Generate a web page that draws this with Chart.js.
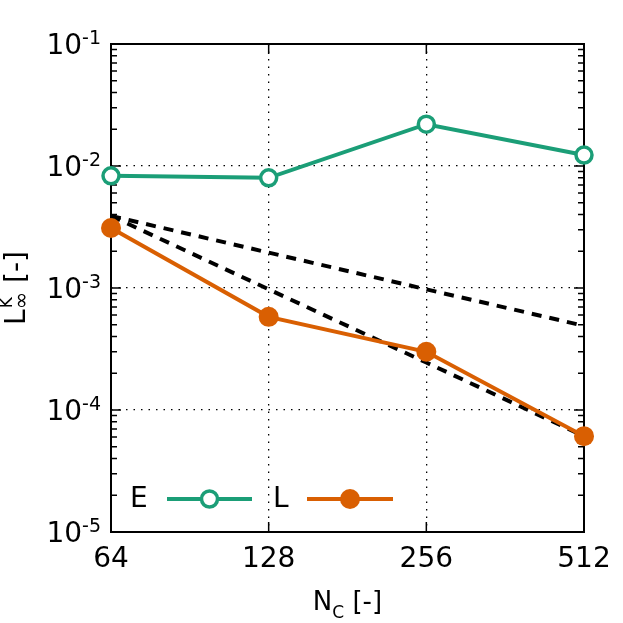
<!DOCTYPE html>
<html>
<head>
<meta charset="utf-8">
<script src="https://cdn.jsdelivr.net/npm/chart.js@4"></script>
<style>
  html, body { margin: 0; padding: 0; background: #fff; }
  #wrap { width: 623px; height: 623px; }
</style>
</head>
<body>
<div id="wrap"><canvas id="errChart" width="623" height="623"></canvas></div>
<script>
// data
const nc = [64, 128, 256, 512];
const errE = [8.3e-3, 8.0e-3, 2.2e-2, 1.23e-2];
const errL = [3.1e-3, 5.8e-4, 3.0e-4, 6.1e-5];
const refOrder1 = [3.9e-3, 1.95e-3, 9.75e-4, 4.9e-4];
const refOrder2 = [3.9e-3, 9.75e-4, 2.45e-4, 6.1e-5];
const yTicks = [1e-5, 1e-4, 1e-3, 1e-2, 1e-1];
const yExp = ['-5', '-4', '-3', '-2', '-1'];
const xTickLabels = ['64', '128', '256', '512'];

const GREEN = '#1b9e77';
const ORANGE = '#d95f02';
const FONT = '"DejaVu Sans", sans-serif';

function pts(ys) {
    return nc.map((x, i) => ({ x: x, y: ys[i] }));
}

// draws a run of text pieces (normal / sub / sup) starting at x, baseline y
function richText(ctx, parts, x, y, align) {
    let total = 0;
    parts.forEach(p => {
        ctx.font = p.size + 'px ' + FONT;
        p.w = ctx.measureText(p.t).width;
        total += p.w;
    });
    let cx = align === 'center' ? x - total / 2 : (align === 'right' ? x - total : x);
    ctx.textAlign = 'left';
    ctx.textBaseline = 'alphabetic';
    parts.forEach(p => {
        ctx.font = p.size + 'px ' + FONT;
        ctx.fillText(p.t, cx, y + (p.dy || 0));
        cx += p.w;
    });
}

const framePlugin = {
    id: 'frame',
    beforeDatasetsDraw(chart) {
        const ctx = chart.ctx;
        const a = chart.chartArea;
        const xs = chart.scales.x, ys = chart.scales.y;
        ctx.save();
        ctx.strokeStyle = '#000';
        ctx.lineWidth = 2;
        ctx.strokeRect(a.left, a.top, a.right - a.left, a.bottom - a.top);
        // y ticks, major and minor, on both sides
        ctx.lineWidth = 1.5;
        ctx.beginPath();
        for (let d = -5; d < -1; d++) {
            for (let m = 1; m <= 9; m++) {
                const v = m * Math.pow(10, d);
                const py = ys.getPixelForValue(v);
                const len = m === 1 ? 10 : 6;
                ctx.moveTo(a.left, py); ctx.lineTo(a.left + len, py);
                ctx.moveTo(a.right, py); ctx.lineTo(a.right - len, py);
            }
        }
        nc.forEach(v => {
            const px = xs.getPixelForValue(v);
            ctx.moveTo(px, a.bottom); ctx.lineTo(px, a.bottom - 10);
            ctx.moveTo(px, a.top); ctx.lineTo(px, a.top + 10);
        });
        ctx.stroke();
        ctx.restore();
    },
    afterDraw(chart) {
        const ctx = chart.ctx;
        const a = chart.chartArea;
        const xs = chart.scales.x, ys = chart.scales.y;
        ctx.save();
        ctx.fillStyle = '#000';
        // y tick labels 10^n
        yTicks.forEach((v, i) => {
            const py = ys.getPixelForValue(v);
            richText(ctx, [
                { t: '10', size: 28 },
                { t: yExp[i], size: 19, dy: -10 }
            ], a.left - 10, py + 10, 'right');
        });
        // x tick labels
        ctx.font = '28px ' + FONT;
        ctx.textAlign = 'center';
        ctx.textBaseline = 'alphabetic';
        nc.forEach((v, i) => {
            ctx.fillText(xTickLabels[i], xs.getPixelForValue(v), 567);
        });
        // axis titles
        richText(ctx, [
            { t: 'N', size: 26 },
            { t: 'C', size: 17, dy: 8 },
            { t: ' [-]', size: 26 }
        ], (a.left + a.right) / 2, 610, 'center');
        ctx.save();
        ctx.translate(25, 288);
        ctx.rotate(-Math.PI / 2);
        ctx.font = '28px ' + FONT;
        const wL = ctx.measureText('L').width;
        ctx.font = '21px ' + FONT;
        const wInf = ctx.measureText('\u221e').width;
        ctx.font = '28px ' + FONT;
        const wRest = ctx.measureText(' [-]').width;
        const tot = wL + wInf + wRest;
        let cx = -tot / 2;
        ctx.textAlign = 'left';
        ctx.font = '28px ' + FONT;
        ctx.fillText('L', cx, 0);
        cx += wL;
        ctx.font = '21px ' + FONT;
        ctx.fillText('\u221e', cx, 3);
        ctx.font = '17px ' + FONT;
        ctx.fillText('K', cx + 1, -13);
        cx += wInf;
        ctx.font = '28px ' + FONT;
        ctx.fillText(' [-]', cx, 0);
        ctx.restore();
        // legend
        const items = [
            { label: 'E', tx: 130, x0: 167, x1: 252, ds: chart.data.datasets[0] },
            { label: 'L', tx: 273, x0: 307, x1: 393, ds: chart.data.datasets[1] }
        ];
        const ly = 499;
        items.forEach(it => {
            ctx.fillStyle = '#000';
            ctx.font = '28px ' + FONT;
            ctx.textAlign = 'left';
            ctx.textBaseline = 'middle';
            ctx.fillText(it.label, it.tx, ly + 1);
            ctx.strokeStyle = it.ds.borderColor;
            ctx.lineWidth = it.ds.borderWidth;
            ctx.beginPath();
            ctx.moveTo(it.x0, ly); ctx.lineTo(it.x1, ly);
            ctx.stroke();
            ctx.beginPath();
            ctx.arc((it.x0 + it.x1) / 2, ly, it.ds.pointRadius, 0, Math.PI * 2);
            ctx.fillStyle = it.ds.pointBackgroundColor;
            ctx.fill();
            if (it.ds.pointBorderWidth > 0) {
                ctx.lineWidth = it.ds.pointBorderWidth;
                ctx.strokeStyle = it.ds.pointBorderColor;
                ctx.stroke();
            }
        });
        ctx.restore();
    }
};

new Chart(document.getElementById('errChart'), {
    type: 'line',
    data: {
        datasets: [
            {
                label: 'E', data: pts(errE),
                borderColor: GREEN, borderWidth: 4,
                pointRadius: 8, pointBorderWidth: 3.5,
                pointBorderColor: GREEN, pointBackgroundColor: '#fff',
                clip: false, order: 1
            },
            {
                label: 'L', data: pts(errL),
                borderColor: ORANGE, borderWidth: 4,
                pointRadius: 10, pointBorderWidth: 0,
                pointBorderColor: ORANGE, pointBackgroundColor: ORANGE,
                clip: false, order: 2
            },
            {
                label: 'order 1', data: pts(refOrder1),
                borderColor: '#000', borderWidth: 4, borderDash: [10, 8],
                pointRadius: 0, clip: false, order: 3
            },
            {
                label: 'order 2', data: pts(refOrder2),
                borderColor: '#000', borderWidth: 4, borderDash: [10, 8],
                pointRadius: 0, clip: false, order: 4
            }
        ]
    },
    options: {
        responsive: false,
        animation: false,
        events: [],
        layout: { padding: { left: 111, right: 39, top: 44, bottom: 91 } },
        plugins: {
            legend: { display: false },
            tooltip: { enabled: false }
        },
        scales: {
            x: {
                type: 'logarithmic',
                min: 64, max: 512,
                afterBuildTicks: s => { s.ticks = nc.map(v => ({ value: v })); },
                afterFit: s => { s.height = 0; },
                ticks: { display: false },
                grid: { color: '#000', lineWidth: 1.3, drawTicks: false },
                border: { display: false, dash: [1.5, 6] }
            },
            y: {
                type: 'logarithmic',
                min: 1e-5, max: 1e-1,
                afterBuildTicks: s => { s.ticks = yTicks.map(v => ({ value: v })); },
                afterFit: s => { s.width = 0; },
                ticks: { display: false },
                grid: { color: '#000', lineWidth: 1.3, drawTicks: false },
                border: { display: false, dash: [1.5, 6] }
            }
        }
    },
    plugins: [framePlugin]
});
</script>
</body>
</html>
